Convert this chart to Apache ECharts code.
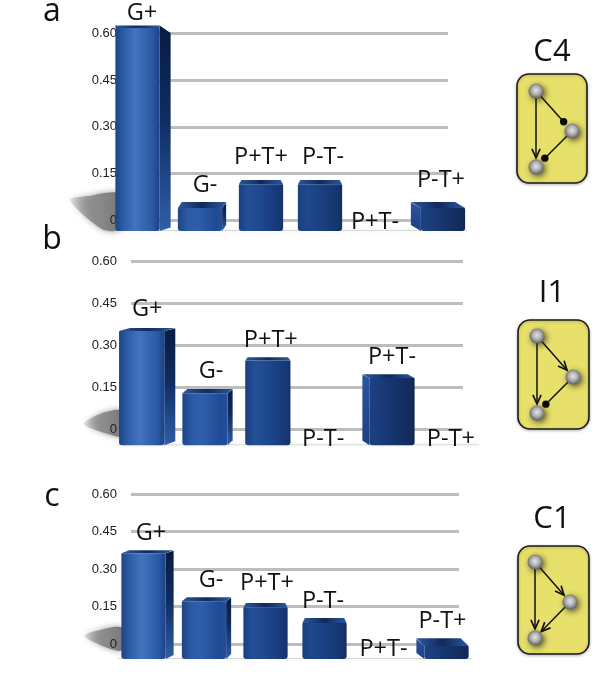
<!DOCTYPE html>
<html><head><meta charset="utf-8">
<style>html,body{margin:0;padding:0;background:#fff}#c{width:600px;height:691px}</style>
<script src="https://cdn.jsdelivr.net/npm/echarts@6/dist/echarts.min.js"></script>
</head><body><div id="c"></div>
<script>
const categories = ['G+', 'G-', 'P+T+', 'P-T-', 'P+T-', 'P-T+'];
const valuesC4 = [0.626, 0.058, 0.129, 0.129, 0, 0.058];
const valuesI1 = [0.363, 0.144, 0.258, 0, 0.197, 0];
const valuesC1 = [0.375, 0.187, 0.164, 0.104, 0, 0.023];
const tickInterval = 0.15;
const axisMax = 0.6;

// layout and styling only
const FONT = '"Open Sans","Noto Sans",sans-serif';
const panels = [
  {letter:'a', letterY:12, title:'C4', titleY:52, values:valuesC4, top:33.5, zero:220, left:113.5, right:467.5, lineRight:448, drop:11,
   sides:[11,4,0,0,0,-10],
   labelShift:[[-1,-14],[3,-19],[0,-25],[3,-25],[-4,0],[3,-24]],
   shadow:[[70,200],[88,196],[119,194],[119,229],[102,229]],
   box:{x:517,y:74,w:70,h:109}, nodes:[[536,91],[572,131],[536,167]], ends:['arrow','dot','dot']},
  {letter:'b', letterY:240, title:'I1', titleY:293, values:valuesI1, top:261.7, zero:429.3, left:117, right:479, lineRight:463, drop:16,
   sides:[11,5,0,0,-7,0],
   labelShift:[[0,-21],[3.5,-20],[3,-19],[-5,8],[3.5,-19],[2,8]],
   shadow:[[84,424],[100,414],[122,411],[122,436],[108,434]],
   box:{x:518,y:320,w:71,h:109}, nodes:[[537,336],[573,377],[537,413]], ends:['arrow','arrow','dot']},
  {letter:'c', letterY:497, title:'C1', titleY:519, values:valuesC1, top:494, zero:644, left:118, right:472, lineRight:459, drop:15,
   sides:[8,5,0,0,0,-8],
   labelShift:[[3.5,-19],[4.5,-19],[1.5,-22],[-1.5,-19],[0,3],[0,-19]],
   shadow:[[84,636],[100,630],[122,628],[122,650],[108,648]],
   box:{x:518,y:546,w:71,h:108}, nodes:[[535,562],[570,602],[535,638]], ends:['arrow','arrow','arrow']}
];
const frontPalettes = [
  ['#1d4488','#2f5ea9','#4474bd','#2a58a4','#1b4185'],
  ['#1d4488','#2c59a3','#2f5ea9','#1f4a94','#234f9a'],
  ['#1a3f80','#234f98','#1f4a90','#17397a','#153468'],
  ['#1a3f80','#1f478c','#1b4284','#163670','#12305f'],
  ['#1c4080','#1b3d7b','#173670','#122c5e','#102853'],
  ['#1c4080','#1b3d7b','#173670','#122c5e','#102853']
];
const G = echarts.graphic;

function renderBar(panel) {
  return function (params, api) {
    const idx = api.value(0), val = api.value(1);
    const band = api.size([1, 0])[0];
    const topPt = api.coord([idx, val]);
    const labelDef = panel.labelShift[idx];
    const kids = [];
    if (val > 0) {
      const side = panel.sides[idx], s = Math.abs(side), w = band * 0.75;
      const zeroY = api.coord([idx, 0])[1];
      const base = zeroY + panel.drop, backY = topPt[1];
      const h = base - backY, d = 2 + 120 / h;
      const frontY = backY + d;
      const x0 = topPt[0] - (w + s) / 2 + (side < 0 ? s : 0), x1 = x0 + w;
      const p = frontPalettes[idx];
      const tall = h > 150;
      const shift = tall ? 0 : side;
      if (s > 0) {
        const ex = side > 0 ? x1 + s : x0 - s, ix = side > 0 ? x1 : x0;
        const outerTop = tall ? frontY + 5 : backY + 0.5;
        kids.push({type:'polygon', shape:{points:[[ix,backY+(tall?0:d)],[ex,outerTop],[ex,base-Math.min(6,d+1)],[ix,base]]},
          style:{fill:new G.LinearGradient(0,0,0,1,side>0?[{offset:0,color:'#081c42'},{offset:0.45,color:'#0f2c60'},{offset:1,color:'#2f5ea6'}]:[{offset:0,color:'#2a55a0'},{offset:1,color:'#1c4080'}])}});
      }
      const inset = side === 0 ? 2.5 : 0;
      kids.push({type:'polygon', shape:{points:[[x0,frontY],[x1,frontY],[x1+shift-inset,backY],[x0+shift+inset,backY]]},
        style:{fill:new G.LinearGradient(0,0,1,0,[{offset:0,color:'#2a58a0'},{offset:0.5,color:'#12295a'},{offset:1,color:'#2a58a0'}])}});
      kids.push({type:'rect', shape:{x:x0,y:frontY,width:w,height:base-frontY,r:[1,1,3,3]},
        style:{fill:new G.LinearGradient(0,0,1,0,[{offset:0,color:p[0]},{offset:0.2,color:p[1]},{offset:0.45,color:p[2]},{offset:0.85,color:p[3]},{offset:1,color:p[4]}])}});
    }
    kids.push({type:'text', z2:20, style:{text:categories[idx], x:topPt[0]+labelDef[0], y:topPt[1]+labelDef[1]+2,
      fill:'#111', font:'23.5px '+FONT, align:'center', verticalAlign:'middle'}});
    return {type:'group', children:kids};
  };
}

const grid = [], xAxis = [], yAxis = [], series = [], graphic = [];
panels.forEach(function (p) {
  const lineIndex = grid.length;
  grid.push({left:131, top:p.top, width:p.lineRight-131, height:p.zero-p.top, containLabel:false});
  grid.push({left:p.left, top:p.top, width:p.right-p.left, height:p.zero-p.top, containLabel:false});
  xAxis.push({type:'category', gridIndex:lineIndex, data:categories, show:false});
  xAxis.push({type:'category', gridIndex:lineIndex+1, data:categories, show:false});
  yAxis.push({type:'value', gridIndex:lineIndex, min:0, max:axisMax, interval:tickInterval,
    axisLine:{show:false}, axisTick:{show:false},
    axisLabel:{margin:14, color:'#222', fontSize:13, fontFamily:'"Liberation Sans",Arial,sans-serif',
      formatter:function(v){return v===0?'0':v.toFixed(2);}},
    splitLine:{show:true, lineStyle:{color:'#bdbdbd', width:3}}});
  yAxis.push({type:'value', gridIndex:lineIndex+1, min:0, max:axisMax, interval:tickInterval, show:false, splitLine:{show:false}});
  series.push({type:'custom', xAxisIndex:lineIndex+1, yAxisIndex:lineIndex+1, z:3, clip:false, silent:true,
    renderItem:renderBar(p), encode:{x:0,y:1},
    data:p.values.map(function(v,i){return [i,v];})});

  // cast shadow and ground glow
  graphic.push({type:'polygon', z:-1, shape:{points:p.shadow, smooth:0.3},
    style:{fill:new G.LinearGradient(0,0,1,0,[{offset:0,color:'rgba(120,120,120,0.15)'},{offset:0.5,color:'#8c8c8c'},{offset:1,color:'#777'}]),
      shadowBlur:6, shadowColor:'rgba(110,110,110,0.7)'}});
  graphic.push({type:'rect', z:-1, shape:{x:p.left,y:p.zero+p.drop-1,width:p.right-p.left,height:1},
    style:{fill:'rgba(150,150,150,0.35)', shadowBlur:4, shadowColor:'rgba(120,120,120,0.6)'}});

  // panel letter and motif title
  graphic.push({type:'text', z:10, style:{text:p.letter, x:52, y:p.letterY, fill:'#111', font:'32px '+FONT, align:'center', verticalAlign:'middle'}});
  graphic.push({type:'text', z:10, style:{text:p.title, x:552, y:p.titleY, fill:'#111', font:'31px '+FONT, align:'center', verticalAlign:'middle'}});

  // motif diagram
  graphic.push({type:'rect', z:5, shape:{x:p.box.x,y:p.box.y,width:p.box.w,height:p.box.h,r:12},
    style:{fill:'#e7e06a', stroke:'#1a1a1a', lineWidth:1.6, shadowBlur:3, shadowColor:'rgba(0,0,0,0.25)', shadowOffsetY:1}});
  const links = [[0,2],[0,1],[1,2]];
  links.forEach(function (l, k) {
    const a = p.nodes[l[0]], b = p.nodes[l[1]];
    const dx = b[0]-a[0], dy = b[1]-a[1], len = Math.hypot(dx,dy), ux = dx/len, uy = dy/len;
    const gap = p.ends[k]==='arrow' ? 9 : 12.5;
    const tx = b[0]-ux*gap, ty = b[1]-uy*gap;
    graphic.push({type:'line', z:6, shape:{x1:a[0],y1:a[1],x2:tx,y2:ty}, style:{stroke:'#111', lineWidth:1.5}});
    if (p.ends[k]==='arrow') {
      const barb = 10, ca = Math.cos(0.42), sa = Math.sin(0.42);
      const bx1 = tx - barb*(ux*ca - uy*sa), by1 = ty - barb*(uy*ca + ux*sa);
      const bx2 = tx - barb*(ux*ca + uy*sa), by2 = ty - barb*(uy*ca - ux*sa);
      graphic.push({type:'polyline', z:6, shape:{points:[[bx1,by1],[tx,ty],[bx2,by2]]}, style:{stroke:'#111', lineWidth:1.7, fill:null}});
    } else {
      graphic.push({type:'circle', z:6, shape:{cx:tx,cy:ty,r:3.7}, style:{fill:'#0a0a0a'}});
    }
  });
  p.nodes.forEach(function (n) {
    graphic.push({type:'circle', z:7, shape:{cx:n[0],cy:n[1],r:7.5},
      style:{fill:new G.RadialGradient(0.5,0.45,0.55,[{offset:0,color:'#e4e4e4'},{offset:0.5,color:'#b2b2b2'},{offset:1,color:'#5e5e5e'}]),
        shadowBlur:6, shadowColor:'rgba(40,40,20,0.8)', shadowOffsetX:2, shadowOffsetY:2}});
  });
});

const chart = echarts.init(document.getElementById('c'), null, {renderer:'canvas', width:600, height:691});
chart.setOption({animation:false, backgroundColor:'#fff', tooltip:{show:false}, grid:grid, xAxis:xAxis, yAxis:yAxis, series:series, graphic:{elements:graphic}});
</script></body></html>
